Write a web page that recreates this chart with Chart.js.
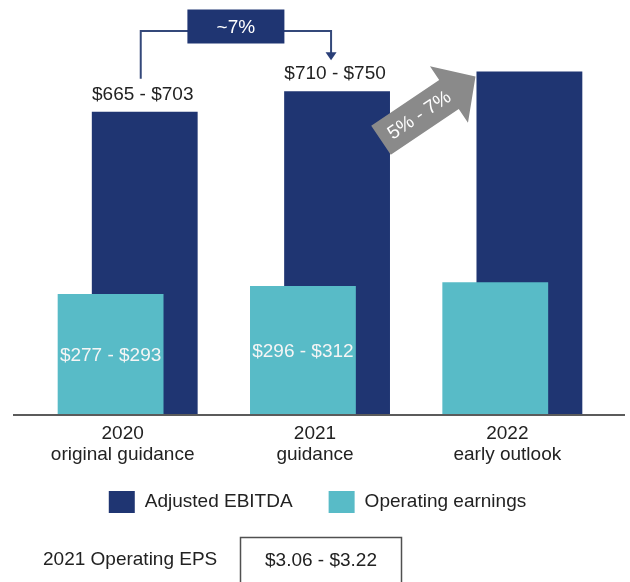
<!DOCTYPE html>
<html>
<head>
<meta charset="utf-8">
<script src="https://cdn.jsdelivr.net/npm/chart.js@4.4.0/dist/chart.umd.min.js"></script>
<style>
  html, body { margin: 0; padding: 0; background: #fff; }
  #wrap { width: 630px; height: 582px; }
</style>
</head>
<body>
<div id="wrap"><canvas id="guidance" width="630" height="582"></canvas></div>
<script>
var categories = [['2020', 'original guidance'], ['2021', 'guidance'], ['2022', 'early outlook']];
// $ millions, bars sit at the midpoint of each guidance range
var ebitda = [684, 730, 775];
var opEarnings = [285, 304, 313];
var ebitdaLow = [665, 710, null];
var ebitdaHigh = [703, 750, null];
var opLow = [277, 296, null];
var opHigh = [293, 312, null];
var ebitdaGrowth = '~7%';
var outlookGrowth = '5% - 7%';
var epsLabel = '2021 Operating EPS';
var epsRange = '$3.06 - $3.22';

var NAVY = '#1f3572', TEAL = '#58bbc7', GREY = '#8a8a8a', INK = '#222222';
var FONT = "'Liberation Sans', Arial, sans-serif";

function range(lo, hi) {
    return lo == null ? '' : '$' + lo + ' - $' + hi;
}

// range labels, growth callouts, baseline, legend and the EPS row
var extras = {
    id: 'extras',
    afterDatasetsDraw: function (chart) {
        var ctx = chart.ctx;
        var y0 = chart.scales.y.getPixelForValue(0);
        var teal = chart.getDatasetMeta(0).data;
        var navy = chart.getDatasetMeta(1).data;
        ctx.save();

        ctx.strokeStyle = '#5b5b5b';
        ctx.lineWidth = 2;
        ctx.beginPath();
        ctx.moveTo(13, y0);
        ctx.lineTo(625, y0);
        ctx.stroke();

        ctx.font = '19px ' + FONT;
        ctx.textAlign = 'center';
        for (var i = 0; i < navy.length; i++) {
            ctx.fillStyle = INK;
            ctx.textBaseline = 'alphabetic';
            ctx.fillText(range(ebitdaLow[i], ebitdaHigh[i]), navy[i].x - 2, navy[i].y - 12);
            ctx.fillStyle = '#f5f5f5';
            ctx.textBaseline = 'middle';
            ctx.fillText(range(opLow[i], opHigh[i]), teal[i].x, (teal[i].y + teal[i].base) / 2 + 1);
        }

        // ~7% connector between the 2020 and 2021 EBITDA labels
        var xL = navy[0].x - 4, xR = navy[1].x - 6, yLine = 31;
        var tipY = navy[1].y - 31;
        ctx.strokeStyle = '#34487a';
        ctx.lineWidth = 2;
        ctx.beginPath();
        ctx.moveTo(xL, navy[0].y - 33);
        ctx.lineTo(xL, yLine);
        ctx.lineTo(xR, yLine);
        ctx.lineTo(xR, tipY - 7);
        ctx.stroke();
        ctx.fillStyle = '#2a3f78';
        ctx.beginPath();
        ctx.moveTo(xR - 5.5, tipY - 8);
        ctx.lineTo(xR + 5.5, tipY - 8);
        ctx.lineTo(xR, tipY);
        ctx.closePath();
        ctx.fill();

        var bx = (xL + xR) / 2;
        ctx.fillStyle = NAVY;
        ctx.fillRect(bx - 48.5, 9.5, 97, 34);
        ctx.fillStyle = '#ffffff';
        ctx.textBaseline = 'middle';
        ctx.fillText(ebitdaGrowth, bx, 28);

        // grey growth arrow from 2021 towards 2022
        var right = navy[1].x + navy[1].width / 2;
        ctx.save();
        ctx.translate(right - 9, navy[1].y + 49);
        ctx.rotate(-34 * Math.PI / 180);
        ctx.fillStyle = GREY;
        ctx.beginPath();
        ctx.moveTo(0, -17.5);
        ctx.lineTo(82, -17.5);
        ctx.lineTo(82, -34);
        ctx.lineTo(114, 0);
        ctx.lineTo(82, 34);
        ctx.lineTo(82, 17.5);
        ctx.lineTo(0, 17.5);
        ctx.closePath();
        ctx.fill();
        ctx.fillStyle = '#ffffff';
        ctx.fillText(outlookGrowth, 46, 1);
        ctx.restore();

        // legend, EBITDA first
        var items = chart.data.datasets.slice().reverse();
        var gap = 36, total = -gap;
        items.forEach(function (d) { total += 36 + ctx.measureText(d.label).width + gap; });
        var lx = 317.5 - total / 2;
        ctx.textAlign = 'left';
        items.forEach(function (d) {
            ctx.fillStyle = d.backgroundColor;
            ctx.fillRect(lx, 491, 26, 22);
            ctx.fillStyle = INK;
            ctx.fillText(d.label, lx + 36, 502);
            lx += 36 + ctx.measureText(d.label).width + gap;
        });

        // EPS row
        ctx.fillStyle = INK;
        ctx.fillText(epsLabel, 43, 560);
        ctx.strokeStyle = '#505050';
        ctx.lineWidth = 1.5;
        ctx.strokeRect(240.5, 537.5, 161, 60);
        ctx.textAlign = 'center';
        ctx.fillText(epsRange, 321, 561);

        ctx.restore();
    }
};

new Chart(document.getElementById('guidance'), {
    type: 'bar',
    data: {
        labels: categories,
        datasets: [{
            label: 'Operating earnings',
            data: opEarnings,
            backgroundColor: TEAL,
            yAxisID: 'y2'
        }, {
            label: 'Adjusted EBITDA',
            data: ebitda,
            backgroundColor: NAVY,
            yAxisID: 'y'
        }]
    },
    options: {
        responsive: false,
        animation: false,
        devicePixelRatio: 1,
        font: { family: FONT },
        datasets: {
            bar: { categoryPercentage: 0.355, barPercentage: 3.1, borderWidth: 0 }
        },
        layout: { padding: { left: 31.5, right: 21.5, top: 16, bottom: 107 } },
        scales: {
            x: {
                grid: { display: false, drawTicks: false },
                border: { display: false },
                ticks: {
                    color: INK,
                    font: { family: FONT, size: 19, lineHeight: 1.1 },
                    padding: 8.5,
                    labelOffset: -5,
                    maxRotation: 0,
                    autoSkip: false
                },
                afterFit: function (scale) { scale.height = 60; }
            },
            y: { display: false, min: 0, max: 900 },
            y2: { display: false, min: 0, max: 940 }
        },
        plugins: {
            legend: { display: false },
            tooltip: { enabled: false }
        }
    },
    plugins: [extras]
});
</script>
</body>
</html>
